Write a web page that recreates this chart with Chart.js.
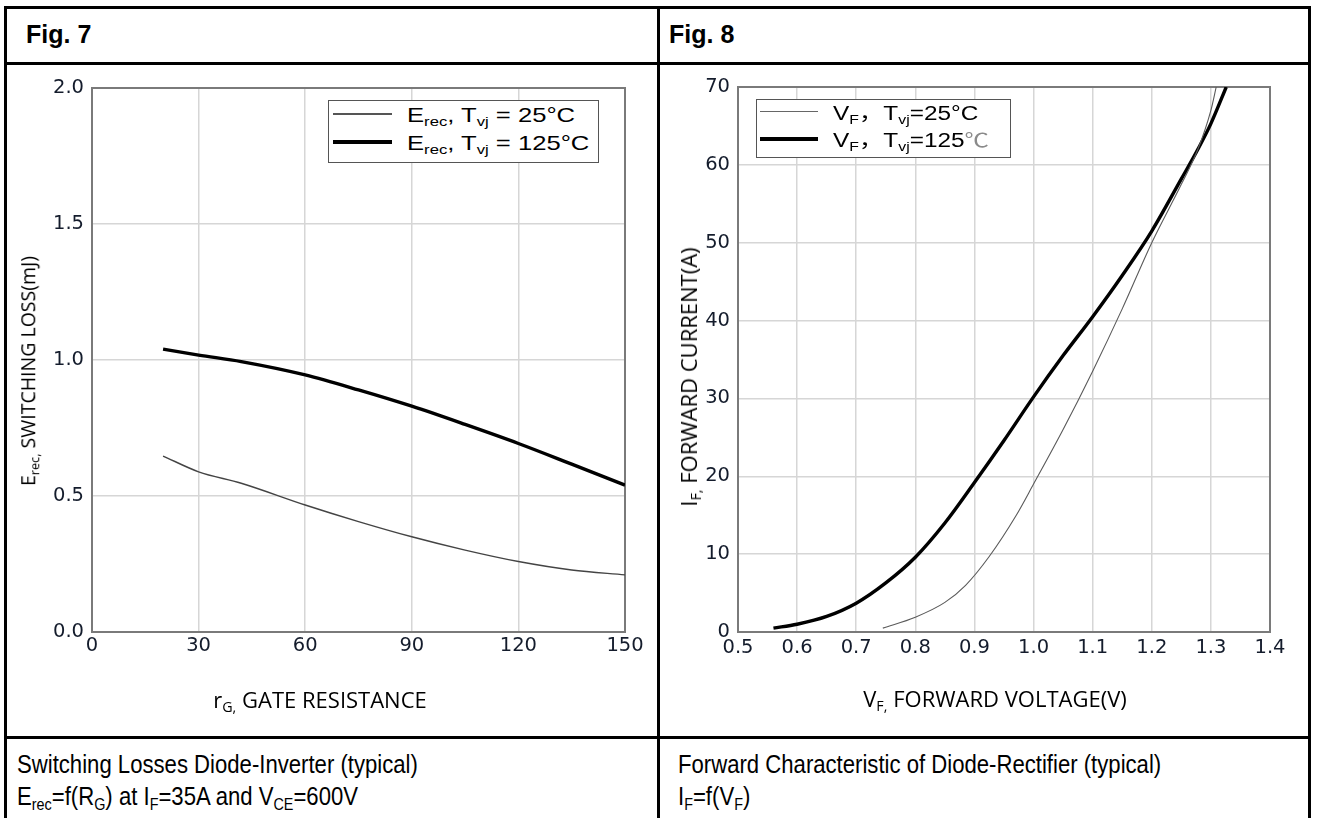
<!DOCTYPE html>
<html>
<head>
<meta charset="utf-8">
<script src="https://cdn.jsdelivr.net/npm/chart.js@4.4.0/dist/chart.umd.min.js"></script>
<style>
  html, body { margin: 0; padding: 0; background: #fff; }
  body { width: 1317px; height: 818px; position: relative; overflow: hidden; font-family: 'Liberation Sans', Arial, sans-serif; color: #000; }
  .rule { position: absolute; background: #000; }
  .txt { position: absolute; white-space: nowrap; line-height: 1; transform-origin: 0 0; }
  sub { font-size: 0.65em; vertical-align: -0.3em; line-height: 0; }
  .head { font-weight: bold; font-size: 25px; }
  .caption { font-size: 25px; transform: scaleX(0.885); }
  .axis-title { font-family: 'Open Sans', sans-serif; }
  .ytitle { transform: translate(-50%, -50%) rotate(-90deg); transform-origin: 50% 50%; }
  .xtitle { transform: translateX(-50%); }
  .legend { position: absolute; border: 1.5px solid #555; background: #fff; box-sizing: border-box; }
  .sample { position: absolute; }
  .leg-txt { font-size: 21px; transform: scaleX(1.22); }
  .leg-txt8 { font-size: 19.5px; transform: scaleX(1.25); }
  .cjk { font-family: 'Noto Sans CJK SC', sans-serif; }
  .cel { font-family: 'Noto Sans CJK SC', sans-serif; color: #8a8a8a; }
  canvas { position: absolute; }
</style>
</head>
<body>
  <!-- table rules -->
  <div class="rule" style="left:4px;top:6px;width:1307px;height:3px"></div>
  <div class="rule" style="left:4px;top:62px;width:1307px;height:3px"></div>
  <div class="rule" style="left:4px;top:736px;width:1307px;height:3px"></div>
  <div class="rule" style="left:4px;top:6px;width:3px;height:830px"></div>
  <div class="rule" style="left:657px;top:6px;width:3px;height:830px"></div>
  <div class="rule" style="left:1308px;top:6px;width:3px;height:830px"></div>

  <div class="txt head" style="left:26px;top:22px">Fig. 7</div>
  <div class="txt head" style="left:669px;top:22px">Fig. 8</div>

  <canvas id="fig7" width="650" height="670" style="left:7px;top:65px"></canvas>
  <canvas id="fig8" width="648" height="670" style="left:660px;top:65px"></canvas>

  <!-- axis titles -->
  <div class="txt axis-title ytitle" style="left:28px;top:371px;font-size:19.5px">E<sub>rec,</sub> SWITCHING LOSS(mJ)</div>
  <div class="txt axis-title xtitle" style="left:320px;top:688px;font-size:22px">r<sub>G,</sub> GATE RESISTANCE</div>
  <div class="txt axis-title ytitle" style="left:688px;top:377px;font-size:22px">I<sub>F,</sub> FORWARD CURRENT(A)</div>
  <div class="txt axis-title xtitle" style="left:995px;top:687px;font-size:22px">V<sub>F,</sub> FORWARD VOLTAGE(V)</div>

  <!-- legends -->
  <div class="legend" style="left:328px;top:100px;width:271px;height:63px"></div>
  <div class="sample" style="left:333px;top:113px;width:59px;height:1.5px;background:#555"></div>
  <div class="sample" style="left:333px;top:140px;width:59px;height:3.5px;background:#000"></div>
  <div class="txt leg-txt" style="left:407px;top:104px">E<sub>rec</sub>, T<sub>vj</sub> = 25°C</div>
  <div class="txt leg-txt" style="left:407px;top:132px">E<sub>rec</sub>, T<sub>vj</sub> = 125°C</div>

  <div class="legend" style="left:756px;top:99px;width:255px;height:59px"></div>
  <div class="sample" style="left:760px;top:111px;width:58px;height:1.2px;background:#666"></div>
  <div class="sample" style="left:760px;top:137px;width:58px;height:3.5px;background:#000"></div>
  <div class="txt leg-txt8" style="left:833px;top:102px">V<sub>F</sub><span class="cjk">，</span>T<sub>vj</sub>=25°C</div>
  <div class="txt leg-txt8" style="left:833px;top:129px">V<sub>F</sub><span class="cjk">，</span>T<sub>vj</sub>=125<span class="cel">℃</span></div>

  <!-- captions -->
  <div class="txt caption" style="left:17px;top:752px">Switching Losses Diode-Inverter (typical)</div>
  <div class="txt caption" style="left:17px;top:784px">E<sub>rec</sub>=f(R<sub>G</sub>) at I<sub>F</sub>=35A and V<sub>CE</sub>=600V</div>
  <div class="txt caption" style="left:678px;top:752px">Forward Characteristic of Diode-Rectifier (typical)</div>
  <div class="txt caption" style="left:678px;top:784px">I<sub>F</sub>=f(V<sub>F</sub>)</div>

<script>
// Fig. 7 - switching losses vs gate resistance
const rgValues = [20, 30, 42, 60, 75, 90, 105, 120, 135, 150];
const erec25 = [0.647, 0.589, 0.547, 0.467, 0.406, 0.350, 0.301, 0.259, 0.228, 0.210];
const erec125 = [1.040, 1.018, 0.994, 0.945, 0.890, 0.830, 0.763, 0.693, 0.617, 0.540];
const rgTicks = [0, 30, 60, 90, 120, 150];
const erecTicks = [0, 0.5, 1.0, 1.5, 2.0];

// Fig. 8 - forward characteristic
const vf25 = [0.745, 0.80, 0.85, 0.885, 0.925, 0.97, 1.00, 1.05, 1.10, 1.15, 1.20, 1.25, 1.278, 1.30, 1.309];
const if25 = [0.5, 1.9, 3.8, 6.0, 9.7, 14.9, 19.0, 26.0, 33.5, 41.5, 50.0, 57.5, 62.0, 67.0, 70];
const vf125 = [0.56, 0.60, 0.65, 0.70, 0.75, 0.80, 0.85, 0.90, 0.95, 1.00, 1.05, 1.10, 1.15, 1.20, 1.25, 1.278, 1.30, 1.326];
const if125 = [0.5, 1.0, 2.0, 3.7, 6.3, 9.6, 14.0, 19.2, 24.6, 30.2, 35.5, 40.5, 45.8, 51.5, 58.2, 62.0, 65.3, 70];
const vfTicks = [0.5, 0.6, 0.7, 0.8, 0.9, 1.0, 1.1, 1.2, 1.3, 1.4];
const ifTicks = [0, 10, 20, 30, 40, 50, 60, 70];

const tickFont = { family: 'DejaVu Sans', size: 19.5 };
const tickColor = '#141c2c';
const gridColor = '#d6d6d6';

const plotFrame = {
  id: 'plotFrame',
  beforeDatasetsDraw(chart) {
    const { ctx, chartArea: a } = chart;
    ctx.save();
    ctx.strokeStyle = '#7a7a7a';
    ctx.lineWidth = 2;
    ctx.strokeRect(a.left, a.top, a.right - a.left, a.bottom - a.top);
    ctx.restore();
  },
};

function toPoints(xs, ys) {
  return xs.map((x, i) => ({ x, y: ys[i] }));
}

function curve(xs, ys, color, width) {
  return {
    data: toPoints(xs, ys),
    borderColor: color,
    borderWidth: width,
    pointRadius: 0,
    cubicInterpolationMode: 'monotone',
    fill: false,
  };
}

function buildOptions(cfg) {
  return {
    responsive: false,
    animation: false,
    devicePixelRatio: 1,
    layout: { padding: cfg.padding },
    plugins: { legend: { display: false }, tooltip: { enabled: false } },
    scales: {
      x: {
        type: 'linear',
        min: cfg.xTicks[0],
        max: cfg.xTicks[cfg.xTicks.length - 1],
        afterBuildTicks: (scale) => { scale.ticks = cfg.xTicks.map((v) => ({ value: v })); },
        afterFit: (scale) => { scale.height = cfg.xHeight; },
        border: { display: false },
        grid: { color: gridColor, lineWidth: 1.5, drawTicks: false },
        ticks: {
          font: tickFont,
          color: tickColor,
          padding: cfg.xPad,
          maxRotation: 0,
          autoSkip: false,
          callback: cfg.xFormat,
        },
      },
      y: {
        type: 'linear',
        min: cfg.yTicks[0],
        max: cfg.yTicks[cfg.yTicks.length - 1],
        afterBuildTicks: (scale) => { scale.ticks = cfg.yTicks.map((v) => ({ value: v })); },
        afterFit: (scale) => { scale.width = cfg.yWidth; },
        border: { display: false },
        grid: { color: gridColor, lineWidth: 1.5, drawTicks: false },
        ticks: {
          font: tickFont,
          color: tickColor,
          padding: 8,
          autoSkip: false,
          callback: cfg.yFormat,
        },
      },
    },
  };
}

new Chart(document.getElementById('fig7'), {
  type: 'line',
  data: {
    datasets: [
      curve(rgValues, erec25, '#444', 1.4),
      curve(rgValues, erec125, '#000', 3.4),
    ],
  },
  options: buildOptions({
    padding: { top: 23, right: 32, left: 0, bottom: 0 },
    xTicks: rgTicks,
    yTicks: erecTicks,
    xHeight: 103,
    yWidth: 85,
    xPad: 2,
    xFormat: (v) => String(v),
    yFormat: (v) => v.toFixed(1),
  }),
  plugins: [plotFrame],
});

new Chart(document.getElementById('fig8'), {
  type: 'line',
  data: {
    datasets: [
      curve(vf25, if25, '#5a5a5a', 1.1),
      curve(vf125, if125, '#000', 3.4),
    ],
  },
  options: buildOptions({
    padding: { top: 22, right: 38, left: 0, bottom: 0 },
    xTicks: vfTicks,
    yTicks: ifTicks,
    xHeight: 103,
    yWidth: 78,
    xPad: 4,
    xFormat: (v) => v.toFixed(1),
    yFormat: (v) => String(v),
  }),
  plugins: [plotFrame],
});
</script>
</body>
</html>
